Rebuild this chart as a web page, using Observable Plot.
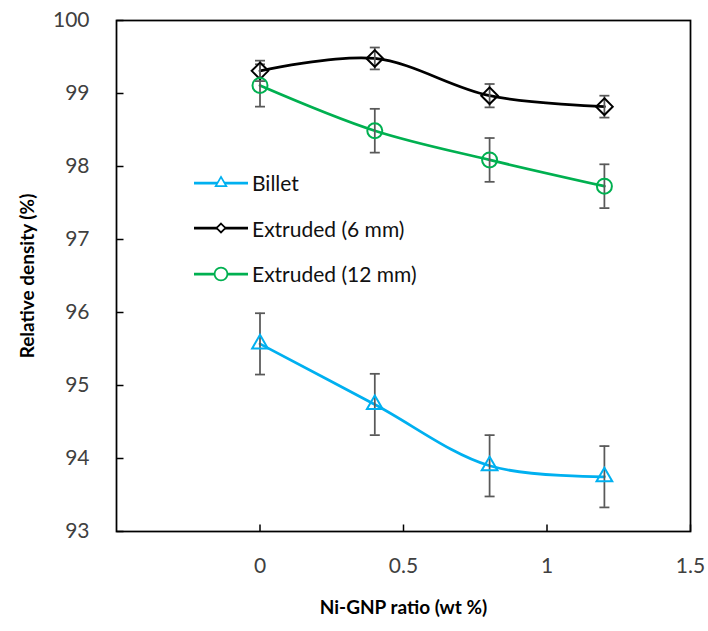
<!DOCTYPE html>
<html>
<head>
<meta charset="utf-8">
<script src="https://cdn.jsdelivr.net/npm/d3@7"></script>
<script src="https://cdn.jsdelivr.net/npm/@observablehq/plot@0.6"></script>
<style>
  body { margin: 0; background: #fff; }
  #wrap { position: relative; width: 708px; height: 631px; font-family: Lato, "Open Sans", sans-serif; }
  #wrap svg.plot { position: absolute; left: 0; top: 0; }
  g[aria-label="x-axis label"] text, g[aria-label="y-axis label"] text { font-weight: bold; fill: #000; font-size: 19px; }
  #legend { position: absolute; left: 193px; top: 160px; font-size: 21px; color: #111; }
  #legend .row { display: flex; align-items: center; height: 45.5px; }
  #legend svg { margin-right: 3px; }
</style>
</head>
<body>
<div id="wrap"></div>
<script>
// ---- data ----
const ratios = [0, 0.4, 0.8, 1.2];
const seriesNames = ["Billet", "Extruded (6 mm)", "Extruded (12 mm)"];
const billet = [95.57, 94.74, 93.90, 93.75];
const billetErr = [0.42, 0.42, 0.42, 0.42];
const extruded6 = [99.31, 99.48, 98.97, 98.82];
const extruded6Err = [0.14, 0.15, 0.16, 0.15];
const extruded12 = [99.11, 98.49, 98.09, 97.73];
const extruded12Err = [0.29, 0.30, 0.30, 0.30];
const xTicks = [0, 0.5, 1, 1.5];
const yTicks = [93, 94, 95, 96, 97, 98, 99, 100];
const colors = ["#00B0F0", "#000000", "#00B050"];

const valueSets = [billet, extruded6, extruded12];
const errSets = [billetErr, extruded6Err, extruded12Err];
const rows = [];
seriesNames.forEach((s, i) => ratios.forEach((x, j) => rows.push({
  series: s, x, y: valueSets[i][j], lo: valueSets[i][j] - errSets[i][j], hi: valueSets[i][j] + errSets[i][j]
})));

const symbolTypes = [d3.symbolTriangle2, d3.symbolDiamond2, d3.symbolCircle];
const capSymbol = { draw(ctx, size) { const r = Math.sqrt(size / Math.PI); ctx.moveTo(-r, 0); ctx.lineTo(r, 0); } };
const tickUp = { draw(ctx, size) { const r = Math.sqrt(size / Math.PI); ctx.moveTo(0, 0); ctx.lineTo(0, -r); } };
const tickRight = { draw(ctx, size) { const r = Math.sqrt(size / Math.PI); ctx.moveTo(0, 0); ctx.lineTo(r, 0); } };

const chart = Plot.plot({
  width: 708, height: 631,
  marginLeft: 116, marginRight: 18, marginTop: 20, marginBottom: 100,
  style: { fontFamily: "Lato, 'Open Sans', sans-serif", fontSize: "21px", color: "#404040", background: "#fff" },
  x: { domain: [-0.5, 1.5] },
  y: { domain: [93, 100] },
  color: { domain: seriesNames, range: colors },
  symbol: { domain: seriesNames, range: symbolTypes },
  marks: [
    Plot.axisX({ ticks: xTicks, tickSize: 0, tickPadding: 27, tickFormat: d => String(d), label: "Ni-GNP ratio (wt %)", labelAnchor: "center", labelArrow: "none", labelOffset: 82 }),
    Plot.axisY({ ticks: yTicks, tickSize: 0, tickPadding: 27, tickFormat: d => String(d), label: "Relative density (%)", labelAnchor: "center", labelArrow: "none", labelOffset: 96 }),
    Plot.dot(xTicks, { x: d => d, frameAnchor: "bottom", symbol: tickUp, r: 7, stroke: "#000", strokeWidth: 1.5 }),
    Plot.dot(yTicks, { y: d => d, frameAnchor: "left", symbol: tickRight, r: 7, stroke: "#000", strokeWidth: 1.5 }),
    Plot.line(rows, { x: "x", y: "y", z: "series", stroke: "series", strokeWidth: 2.75, curve: "catmull-rom" }),
    Plot.ruleX(rows, { x: "x", y1: "lo", y2: "hi", stroke: "#595959", strokeWidth: 1.75 }),
    Plot.dot(rows, { x: "x", y: "lo", symbol: capSymbol, r: 5, stroke: "#595959", strokeWidth: 1.75 }),
    Plot.dot(rows, { x: "x", y: "hi", symbol: capSymbol, r: 5, stroke: "#595959", strokeWidth: 1.75 }),
    Plot.dot(rows, { x: "x", y: "y", symbol: "series", stroke: "series", fill: "none", strokeWidth: 2, r: 7.5 }),
    Plot.frame({ stroke: "#000", strokeWidth: 1.75 })
  ]
});
chart.classList.add("plot");
document.getElementById("wrap").appendChild(chart);

// legend
const legend = document.createElement("div");
legend.id = "legend";
const legendSizes = [80, 50, 130];
seriesNames.forEach((s, i) => {
  const row = document.createElement("div");
  row.className = "row";
  const sw = d3.create("svg").attr("width", 56).attr("height", 20);
  sw.append("line").attr("x1", 1).attr("x2", 55).attr("y1", 10).attr("y2", 10).attr("stroke", colors[i]).attr("stroke-width", 2.75);
  sw.append("path").attr("d", d3.symbol(symbolTypes[i], legendSizes[i])()).attr("transform", "translate(28,10)")
    .attr("fill", "#fff").attr("stroke", colors[i]).attr("stroke-width", 1.75);
  row.appendChild(sw.node());
  const t = document.createElement("span");
  t.textContent = s;
  row.appendChild(t);
  legend.appendChild(row);
});
document.getElementById("wrap").appendChild(legend);
</script>
</body>
</html>
